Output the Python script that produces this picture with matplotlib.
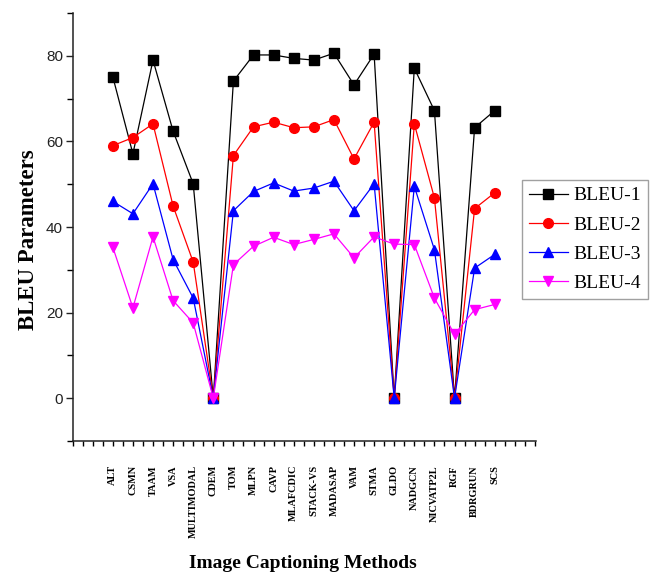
import matplotlib.pyplot as plt
import numpy as np
from matplotlib.ticker import MultipleLocator

methods = ["ALT", "CSMN", "TAAM", "VSA", "MULTIMODAL", "CDEM", "TOM", "MLPN", "CAVP",
           "MLAFCDIC", "STACK-VS", "MADASAP", "VAM", "STMA", "GLDO", "NADGCN",
           "NICVATP2L", "RGF", "BDRGRUN", "SCS"]

bleu1 = [75.1, 57.1, 79.0, 62.4, 50.1, 0, 74.1, 80.2, 80.2, 79.4,
         79.0, 80.6, 73.2, 80.4, 0, 77.1, 67.2, 0, 63.2, 67.2]
bleu2 = [59.0, 60.9, 64.1, 44.9, 31.8, 0, 56.7, 63.4, 64.5, 63.2,
         63.4, 65.1, 55.9, 64.5, 0, 64.1, 46.8, 0, 44.3, 48.0]
bleu3 = [46.0, 43.1, 50.1, 32.4, 23.4, 0, 43.8, 48.3, 50.3, 48.4,
         49.1, 50.7, 43.8, 50.1, 0, 49.5, 34.7, 0, 30.4, 33.6]
bleu4 = [35.3, 21.1, 37.7, 22.8, 17.6, 0, 31.2, 35.5, 37.6, 35.9,
         37.1, 38.4, 32.8, 37.7, 36.0, 35.9, 23.4, 14.9, 20.7, 21.9]

series_names = ["BLEU-1", "BLEU-2", "BLEU-3", "BLEU-4"]

serif = "Liberation Serif"
sans = "Liberation Sans"

fig = plt.figure(figsize = (6.6, 5.78), dpi = 100)
ax = fig.add_axes([0.110, 0.237, 0.702, 0.7405])

x = np.arange(1, len(methods) + 1)
styles = [
    dict(color = "black", marker = "s", markersize = 6.5),
    dict(color = "red", marker = "o", markersize = 7),
    dict(color = "blue", marker = "^", markersize = 7.5),
    dict(color = "magenta", marker = "v", markersize = 7.5),
]
for values, name, style in zip([bleu1, bleu2, bleu3, bleu4], series_names, styles):
    ax.plot(x, values, linewidth = 0.9, label = name, **style)

ax.set_xlim(-1, 22.05)
ax.set_ylim(-10, 90)

# y axis ticks
ax.yaxis.set_minor_locator(MultipleLocator(10))
ax.set_yticks([0, 20, 40, 60, 80])
ax.tick_params(axis = "y", which = "major", direction = "out", length = 5, width = 1,
               pad = 2, labelsize = 11, colors = "#222222")
ax.tick_params(axis = "y", which = "minor", direction = "out", length = 4, width = 1)
for lab in ax.get_yticklabels():
    lab.set_fontfamily(sans)

# x axis: labelled methods + small ticks every half step
ax.set_xticks(x)
ax.set_xticklabels(methods, rotation = 90, fontfamily = serif, fontweight = "bold", fontsize = 7.4)
minor = np.arange(-1, 22.01, 0.5)
ax.set_xticks([m for m in minor if m not in x], minor = True)
ax.tick_params(axis = "x", which = "both", direction = "out", length = 3.3, width = 1)
ax.tick_params(axis = "x", which = "major", pad = 14)

for side in ["top", "right"]:
    ax.spines[side].set_visible(False)
for side in ["left", "bottom"]:
    ax.spines[side].set_linewidth(1.1)
    ax.spines[side].set_color("#222222")

ax.set_ylabel("BLEU Parameters", fontfamily = serif, fontweight = "bold", fontsize = 16.5)
ax.yaxis.set_label_coords(-0.073, 0.47)
ax.set_xlabel("Image Captioning Methods", fontfamily = serif, fontweight = "bold", fontsize = 14)
ax.xaxis.set_label_coords(0.496, -0.266)

leg = ax.legend(loc = "upper left", bbox_to_anchor = (522 / 660, 1 - 180 / 578),
                bbox_transform = fig.transFigure, borderaxespad = 0, fancybox = False,
                prop = {"family": serif, "size": 14}, handlelength = 2.0,
                handletextpad = 0.3, labelspacing = 0.6, borderpad = 0.35)
leg.get_frame().set_edgecolor("#888888")
leg.get_frame().set_linewidth(1)

plt.savefig("out.png", dpi = 100)
